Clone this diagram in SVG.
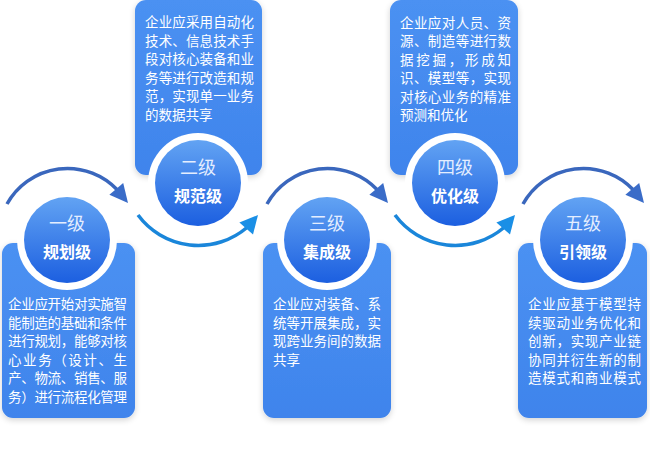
<svg xmlns="http://www.w3.org/2000/svg" width="650" height="454" viewBox="0 0 650 454">
<defs>
<style>
.box{fill:url(#boxg);}
.ring{fill:#ffffff;}
.ball{fill:url(#ballg);}
.lvl{font-family:"Noto Sans CJK SC","Noto Sans",sans-serif;font-size:18px;fill:#e4eeff;text-anchor:middle;}
.name{font-family:"Noto Sans CJK SC","Noto Sans",sans-serif;font-size:16px;font-weight:bold;fill:#ffffff;text-anchor:middle;}
.desc{font-family:"Noto Sans CJK SC","Noto Sans",sans-serif;font-size:13.5px;fill:#ffffff;}
.arcTop{fill:none;stroke:#3a67bd;stroke-width:3.5;}
.headTop{fill:#3a6cc8;}
.arcBot{fill:none;stroke:#1a86da;stroke-width:3.5;}
.headBot{fill:#1a8fe6;}
</style>
<linearGradient id="boxg" x1="0" y1="0" x2="0" y2="1">
<stop offset="0" stop-color="#4b91f2"/>
<stop offset="1" stop-color="#3f84ec"/>
</linearGradient>
<linearGradient id="ballg" x1="0" y1="0" x2="0" y2="1">
<stop offset="0" stop-color="#62a3f3"/>
<stop offset="1" stop-color="#1c5fe0"/>
</linearGradient>
<filter id="sh" x="-20%" y="-20%" width="140%" height="140%">
<feGaussianBlur in="SourceAlpha" stdDeviation="3"/>
<feOffset dy="2"/>
<feComponentTransfer><feFuncA type="linear" slope="0.18"/></feComponentTransfer>
<feMerge><feMergeNode/><feMergeNode in="SourceGraphic"/></feMerge>
</filter>
</defs>
<rect width="650" height="454" fill="#ffffff"/>

<g id="level1">
<rect class="box" x="2" y="243" width="133" height="175" rx="11" filter="url(#sh)"/>
<circle class="ring" cx="67" cy="240" r="50"/>
<circle class="ball" cx="67" cy="240" r="43"/>
<text class="lvl" x="67" y="230">一级</text>
<text class="name" x="67" y="258">规划级</text>
<text class="desc" x="8" y="309" textLength="119" lengthAdjust="spacing">企业应开始对实施智</text>
<text class="desc" x="8" y="327.5" textLength="119" lengthAdjust="spacing">能制造的基础和条件</text>
<text class="desc" x="8" y="346" textLength="119" lengthAdjust="spacing">进行规划，能够对核</text>
<text class="desc" x="8" y="364.5" textLength="119" lengthAdjust="spacing">心业务（设计、生</text>
<text class="desc" x="8" y="383" textLength="119" lengthAdjust="spacing">产、物流、销售、服</text>
<text class="desc" x="8" y="401.5" textLength="119" lengthAdjust="spacing">务）进行流程化管理</text>
</g>

<g id="level2">
<rect class="box" x="135" y="0" width="127" height="175" rx="11" filter="url(#sh)"/>
<circle class="ring" cx="198" cy="183" r="50"/>
<circle class="ball" cx="198" cy="183" r="43"/>
<text class="lvl" x="198" y="174">二级</text>
<text class="name" x="198" y="202">规范级</text>
<text class="desc" x="145" y="27" textLength="109" lengthAdjust="spacing">企业应采用自动化</text>
<text class="desc" x="145" y="45.5" textLength="109" lengthAdjust="spacing">技术、信息技术手</text>
<text class="desc" x="145" y="64" textLength="109" lengthAdjust="spacing">段对核心装备和业</text>
<text class="desc" x="145" y="82.5" textLength="109" lengthAdjust="spacing">务等进行改造和规</text>
<text class="desc" x="145" y="101" textLength="109" lengthAdjust="spacing">范，实现单一业务</text>
<text class="desc" x="145" y="119.5">的数据共享</text>
</g>

<g id="level3">
<rect class="box" x="263" y="243" width="128" height="175" rx="11" filter="url(#sh)"/>
<circle class="ring" cx="327" cy="240" r="50"/>
<circle class="ball" cx="327" cy="240" r="43"/>
<text class="lvl" x="327" y="230">三级</text>
<text class="name" x="327" y="258">集成级</text>
<text class="desc" x="273" y="309" textLength="108" lengthAdjust="spacing">企业应对装备、系</text>
<text class="desc" x="273" y="327.5" textLength="108" lengthAdjust="spacing">统等开展集成，实</text>
<text class="desc" x="273" y="346" textLength="108" lengthAdjust="spacing">现跨业务间的数据</text>
<text class="desc" x="273" y="364.5">共享</text>
</g>

<g id="level4">
<rect class="box" x="390" y="0" width="128" height="175" rx="11" filter="url(#sh)"/>
<circle class="ring" cx="455" cy="183" r="50"/>
<circle class="ball" cx="455" cy="183" r="43"/>
<text class="lvl" x="455" y="174">四级</text>
<text class="name" x="455" y="202">优化级</text>
<text class="desc" x="400" y="27.5" textLength="111" lengthAdjust="spacing">企业应对人员、资</text>
<text class="desc" x="400" y="46" textLength="111" lengthAdjust="spacing">源、制造等进行数</text>
<text class="desc" x="400" y="64.5" textLength="111" lengthAdjust="spacing">据挖掘，形成知</text>
<text class="desc" x="400" y="83" textLength="111" lengthAdjust="spacing">识、模型等，实现</text>
<text class="desc" x="400" y="101.5" textLength="111" lengthAdjust="spacing">对核心业务的精准</text>
<text class="desc" x="400" y="120">预测和优化</text>
</g>

<g id="level5">
<rect class="box" x="518" y="243" width="129" height="175" rx="11" filter="url(#sh)"/>
<circle class="ring" cx="583" cy="240" r="50"/>
<circle class="ball" cx="583" cy="240" r="43"/>
<text class="lvl" x="583" y="230">五级</text>
<text class="name" x="583" y="258">引领级</text>
<text class="desc" x="528" y="309" textLength="113" lengthAdjust="spacing">企业应基于模型持</text>
<text class="desc" x="528" y="327.5" textLength="113" lengthAdjust="spacing">续驱动业务优化和</text>
<text class="desc" x="528" y="346" textLength="113" lengthAdjust="spacing">创新，实现产业链</text>
<text class="desc" x="528" y="364.5" textLength="113" lengthAdjust="spacing">协同并衍生新的制</text>
<text class="desc" x="528" y="383" textLength="113" lengthAdjust="spacing">造模式和商业模式</text>
</g>

<g id="connectors">
<path class="arcTop" d="M7,204 A69,69 0 0 1 117.5,190"/>
<polygon class="headTop" points="128,203 109.4,194.7 123.2,183.1"/>
<path class="arcTop" d="M267,204 A69,69 0 0 1 377.5,190"/>
<polygon class="headTop" points="388,203 369.4,194.7 383.2,183.1"/>
<path class="arcTop" d="M523,204 A69,69 0 0 1 633.5,190"/>
<polygon class="headTop" points="644,203 625.4,194.7 639.2,183.1"/>
<path class="arcBot" d="M138,215 A75,75 0 0 0 247,227.5"/>
<polygon class="headBot" points="258,215 253,234.4 239.4,222.6"/>
<path class="arcBot" d="M395,215 A75,75 0 0 0 504,227.5"/>
<polygon class="headBot" points="515,215 510,234.4 496.4,222.6"/>
</g>
</svg>
